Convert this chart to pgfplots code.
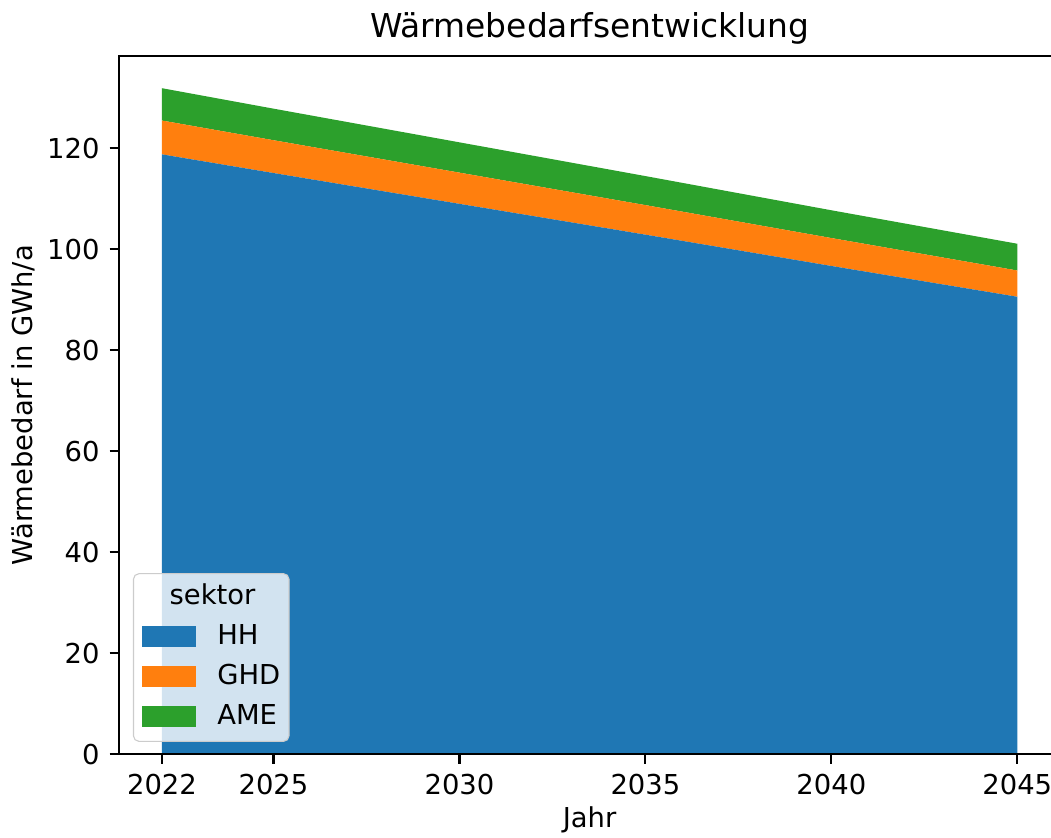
\documentclass[border=0pt]{standalone}
\usepackage{fontspec}
\setmainfont{DejaVu Sans}
\usepackage{pgfplots}
\pgfplotsset{compat=1.18}
\definecolor{cA}{HTML}{1F77B4}
\definecolor{cB}{HTML}{FF7F0E}
\definecolor{cC}{HTML}{2CA02C}
\begin{document}
\begin{tikzpicture}
\begin{axis}[
  at={(43.5pt,30.2pt)}, anchor=south west,
  scale only axis, width=343.4pt, height=254.9pt,
  xmin=2020.85, xmax=2046.15, ymin=0, ymax=138.3,
  stack plots=y, area style,
  xtick={2022,2025,2030,2035,2040,2045},
  xticklabels={2022,2025,2030,2035,2040,2045},
  ytick={0,20,40,60,80,100,120},
  /pgf/number format/assume math mode=true,
  font=\fontsize{10}{12}\selectfont,
  tick label style={font=\fontsize{10}{12}\selectfont, inner sep=0pt},
  xticklabel style={anchor=north, yshift=-3.5pt},
  yticklabel style={anchor=east, xshift=-3.5pt},
  tick align=outside, major tick length=3.5pt,
  every tick/.style={black, line width=0.8pt},
  xtick pos=bottom, ytick pos=left,
  axis line style={line width=0.8pt},
  clip=true,
  title={Wärmebedarfsentwicklung},
  title style={at={(axis description cs:0.5,1)}, anchor=base, yshift=0.6pt, font=\fontsize{12}{14}\selectfont, inner sep=0pt},
  xlabel={Jahr},
  xlabel style={at={(axis description cs:0.5,-0.1055)}, anchor=base, inner sep=0pt},
  ylabel={Wärmebedarf in GWh/a},
  ylabel style={at={(axis description cs:-0.0917,0.5)}, anchor=base, inner sep=0pt, rotate=0},
  legend cell align=left,
  legend style={at={(0.0146,0.0177)}, anchor=south west,
    draw=black!20, rounded corners=2pt, fill=white, fill opacity=0.8, text opacity=1,
    inner xsep=3.2pt, inner ysep=3pt,
    row sep=3.2pt, column sep=7.7pt,
    font=\fontsize{10}{12}\selectfont,
    nodes={inner sep=0pt, anchor=base west, text height=8.3pt, text depth=3.1pt}},
]
\addlegendimage{empty legend}
\addlegendentry{\hspace*{-17.4pt}sektor}
\addplot[fill=cA, draw=none, legend image code/.code={\fill[cA, sharp corners, fill opacity=1] (0pt,-0.8pt) rectangle (19.7pt,6.7pt);}] coordinates {
(2022,118.8) (2025,115.1) (2030,109.0) (2035,102.9) (2040,96.7) (2045,90.6)} \closedcycle;
\addlegendentry{HH}
\addplot[fill=cB, draw=none, legend image code/.code={\fill[cB, sharp corners, fill opacity=1] (0pt,-0.8pt) rectangle (19.7pt,6.7pt);}] coordinates {
(2022,6.7) (2025,6.5) (2030,6.18) (2035,5.85) (2040,5.53) (2045,5.2)} \closedcycle;
\addlegendentry{GHD}
\addplot[fill=cC, draw=none, legend image code/.code={\fill[cC, sharp corners, fill opacity=1] (0pt,-0.8pt) rectangle (19.7pt,6.7pt);}] coordinates {
(2022,6.4) (2025,6.25) (2030,6.0) (2035,5.75) (2040,5.5) (2045,5.3)} \closedcycle;
\addlegendentry{AME}
\end{axis}
\pgfresetboundingbox
\path[use as bounding box] (0,0) rectangle (383.6pt,305.5pt);
\end{tikzpicture}
\end{document}
